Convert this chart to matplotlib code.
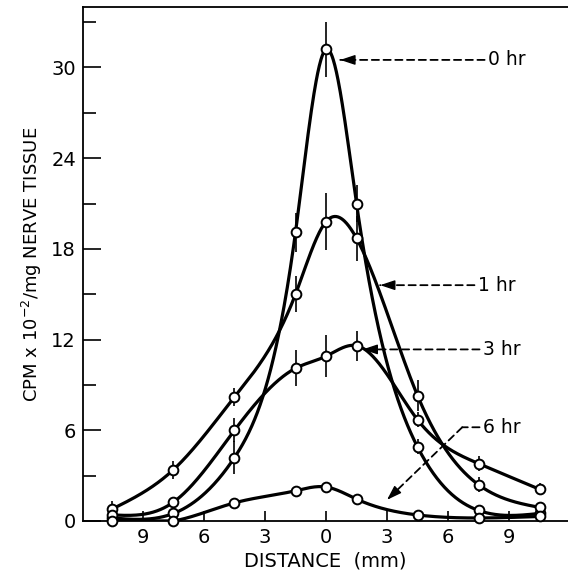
import numpy as np
import matplotlib
matplotlib.use("Agg")
import matplotlib.pyplot as plt
from matplotlib.ticker import FixedLocator, FuncFormatter

# ---------------- data ----------------
distance = [-10.5, -7.5, -4.5, -1.5, 0.0, 1.5, 4.5, 7.5, 10.5]

cpm_0hr = [0.2, 0.5, 4.2, 19.1, 31.2, 21.0, 4.9, 0.7, 0.5]
err_0hr = [0.0, 0.0, 1.1, 1.3, 1.8, 1.2, 0.5, 0.0, 0.0]

cpm_1hr = [0.8, 3.4, 8.2, 15.0, 19.8, 18.7, 8.3, 2.4, 0.9]
err_1hr = [0.5, 0.6, 0.6, 1.2, 1.9, 1.5, 1.0, 0.5, 0.0]

cpm_3hr = [0.4, 1.25, 6.0, 10.1, 10.9, 11.6, 6.7, 3.8, 2.1]
err_3hr = [0.0, 0.0, 0.8, 1.2, 1.4, 1.0, 0.5, 0.5, 0.4]

cpm_6hr = [0.0, 0.0, 1.2, 2.0, 2.25, 1.45, 0.4, 0.2, 0.3]
err_6hr = [0.0, 0.0, 0.0, 0.0, 0.0, 0.0, 0.0, 0.0, 0.0]

series_labels = ["0 hr", "1 hr", "3 hr", "6 hr"]
# label text anchor (data units) and arrow tip (data units)
label_pos = [(7.95, 30.5), (7.45, 15.6), (7.7, 11.35), (7.7, 6.2)]
arrow_tip = [(0.7, 30.5), (2.66, 15.6), (1.8, 11.35), (3.0, 1.4)]
leader_corner = [None, None, None, (6.7, 6.2)]

xticks = [-9, -6, -3, 0, 3, 6, 9]
yticks_major = [0, 6, 12, 18, 24, 30]
yticks_minor = [3, 9, 15, 21, 27, 33]


def natural_spline(x, y, xs):
    x = np.asarray(x, float)
    y = np.asarray(y, float)
    n = len(x)
    h = np.diff(x)
    A = np.zeros((n, n))
    b = np.zeros(n)
    A[0, 0] = 1.0
    A[-1, -1] = 1.0
    for i in range(1, n - 1):
        A[i, i - 1] = h[i - 1]
        A[i, i] = 2 * (h[i - 1] + h[i])
        A[i, i + 1] = h[i]
        b[i] = 6 * ((y[i + 1] - y[i]) / h[i] - (y[i] - y[i - 1]) / h[i - 1])
    M = np.linalg.solve(A, b)
    xs = np.asarray(xs, float)
    idx = np.clip(np.searchsorted(x, xs) - 1, 0, n - 2)
    x0, x1 = x[idx], x[idx + 1]
    hh = x1 - x0
    t0 = x1 - xs
    t1 = xs - x0
    return (M[idx] * t0**3 / (6 * hh) + M[idx + 1] * t1**3 / (6 * hh)
            + (y[idx] / hh - M[idx] * hh / 6) * t0
            + (y[idx + 1] / hh - M[idx + 1] * hh / 6) * t1)


plt.rcParams['font.family'] = ['DejaVu Sans']

W, H = 568, 577
fig = plt.figure(figsize=(W / 100, H / 100), dpi=100)
ax = fig.add_axes([83 / W, 1 - 521 / H, (W - 83) / W, (521 - 7) / H])

ax.set_xlim(-11.95, 11.9)
ax.set_ylim(0, 34)

xs = np.linspace(distance[0], distance[-1], 800)
all_series = [(cpm_0hr, err_0hr), (cpm_1hr, err_1hr), (cpm_3hr, err_3hr), (cpm_6hr, err_6hr)]
for vals, errs in all_series:
    ys = np.maximum(natural_spline(distance, vals, xs), 0.0)
    ax.plot(xs, ys, color='black', lw=2.3, zorder=3, solid_capstyle='round')
    e = np.asarray(errs)
    mask = e > 0
    ax.errorbar(np.asarray(distance)[mask], np.asarray(vals)[mask], yerr=e[mask],
                fmt='none', ecolor='black', elinewidth=1.2, capsize=0, zorder=3)
    ax.plot(distance, vals, linestyle='none', marker='o', ms=7, mfc='white',
            mec='black', mew=1.4, zorder=4, clip_on=False)

# annotations
for lab, (tx, ty), (ax_, ay), corner in zip(series_labels, label_pos, arrow_tip, leader_corner):
    ax.text(tx, ty, lab, fontsize=13.5, ha='left', va='center', zorder=5)
    start = (tx - 0.15, ty)
    if corner is not None:
        ax.annotate('', xy=corner, xytext=start,
                    arrowprops=dict(arrowstyle='-', lw=1.3, ls=(0, (4, 2.5)),
                                    shrinkA=0, shrinkB=0, color='black'))
        start = corner
    ax.annotate('', xy=(ax_, ay), xytext=start,
                arrowprops=dict(arrowstyle='-', lw=1.3, ls=(0, (4, 2.5)),
                                shrinkA=0, shrinkB=0, color='black'))
    p0 = ax.transData.transform((ax_, ay))
    p1 = ax.transData.transform(start)
    v = (p1 - p0) / np.hypot(*(p1 - p0))
    hb = ax.transData.inverted().transform(p0 + v * 14)
    ax.annotate('', xy=(ax_, ay), xytext=hb,
                arrowprops=dict(arrowstyle='-|>,head_length=0.9,head_width=0.3', lw=1.0,
                                shrinkA=0, shrinkB=0, color='black', fc='black'))

# axes styling
ax.spines['right'].set_visible(False)
for s in ['left', 'top', 'bottom']:
    ax.spines[s].set_linewidth(1.3)

ax.xaxis.set_major_locator(FixedLocator(xticks))
ax.xaxis.set_major_formatter(FuncFormatter(lambda v, p: f"{abs(int(round(v)))}"))
ax.tick_params(axis='x', direction='in', length=7, width=1.2, labelsize=14, pad=5)

ax.yaxis.set_major_locator(FixedLocator(yticks_major))
ax.yaxis.set_minor_locator(FixedLocator(yticks_minor))
ax.tick_params(axis='y', which='major', direction='in', length=13, width=1.2, labelsize=14, pad=5)
ax.tick_params(axis='y', which='minor', direction='in', length=9, width=1.2)

ax.set_xlabel('DISTANCE  (mm)', fontsize=14, labelpad=3)
ax.set_ylabel(r'CPM x 10$^{-2}$/mg NERVE TISSUE', fontsize=13, labelpad=5)

fig.savefig('out.png', dpi=100)
